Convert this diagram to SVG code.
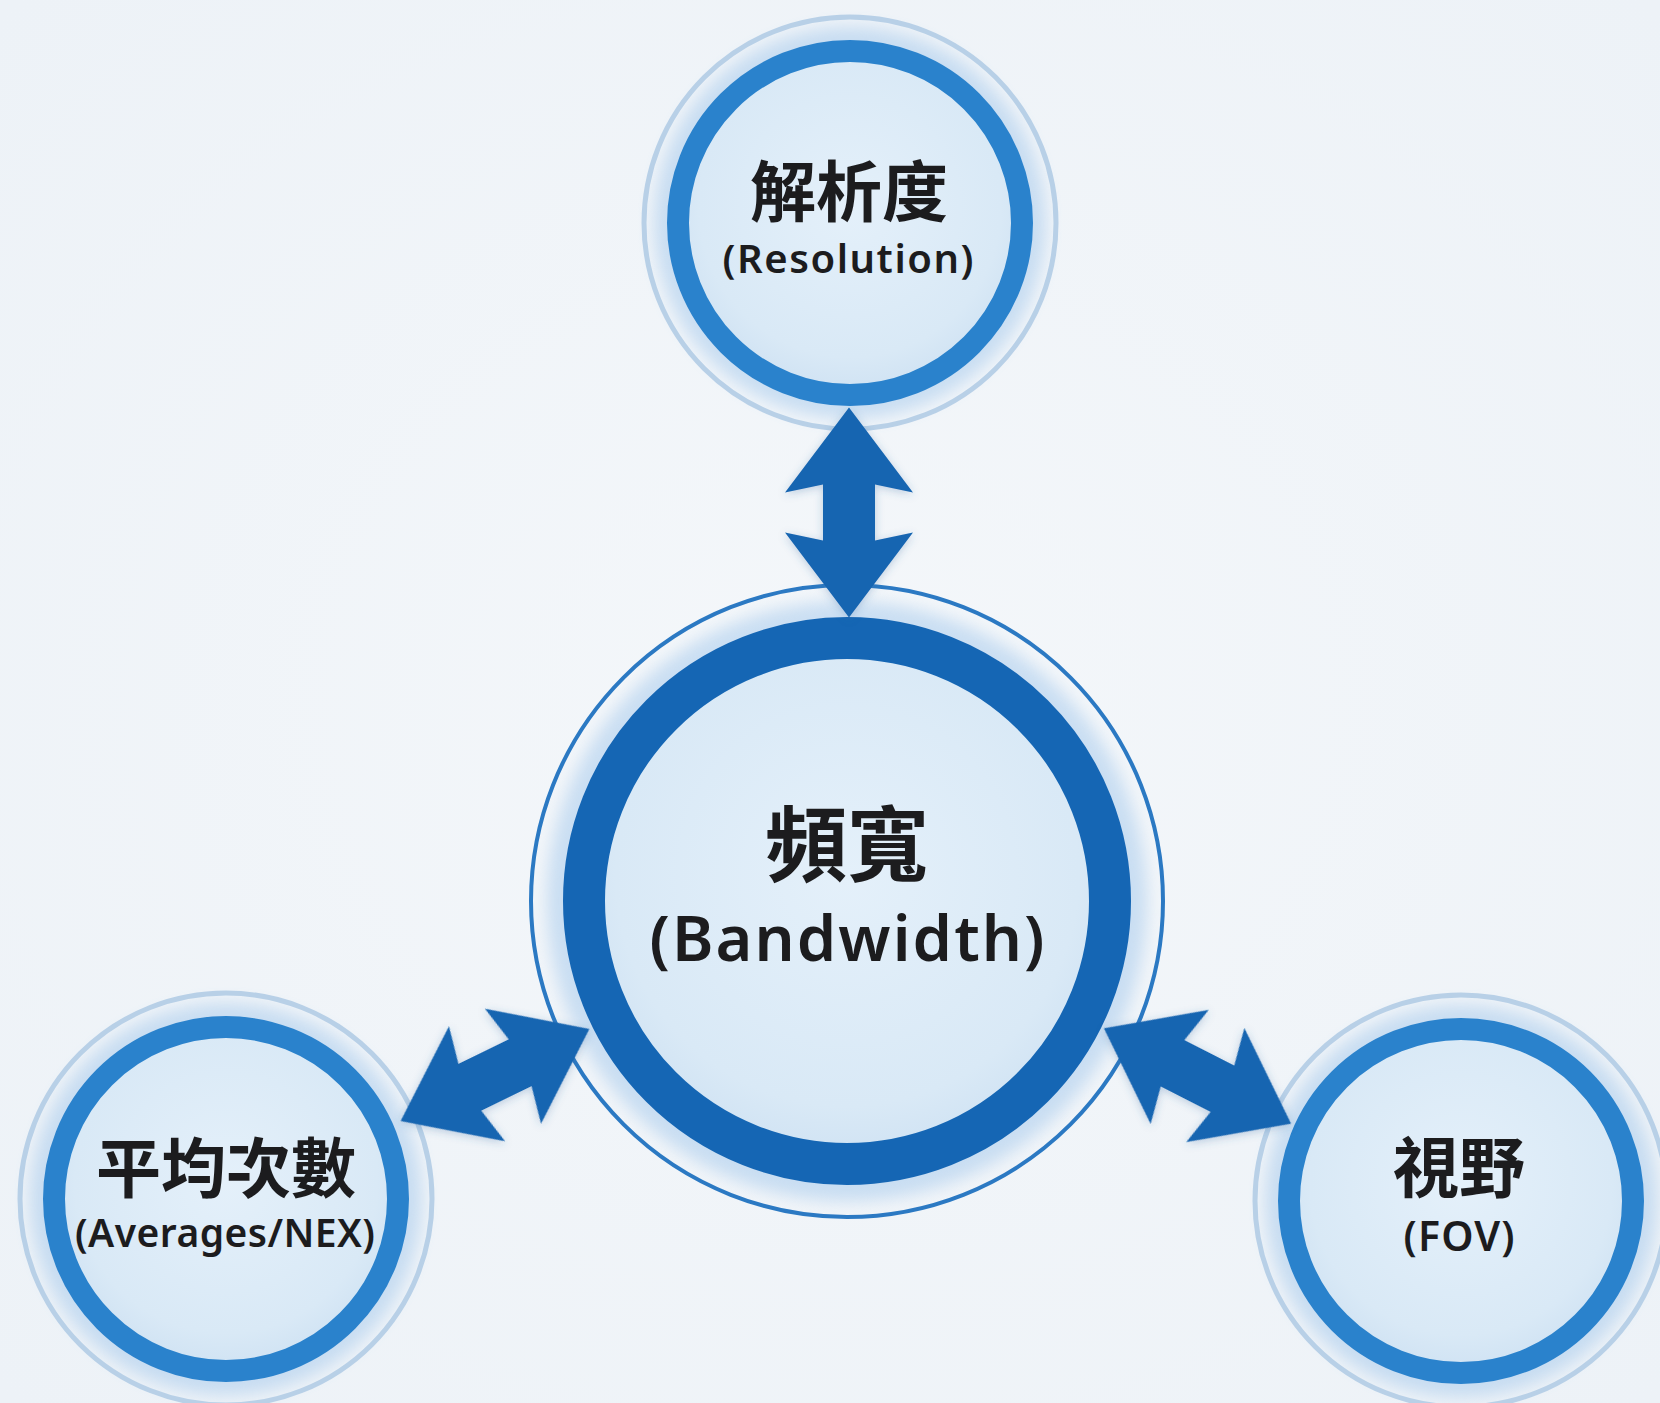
<svg xmlns="http://www.w3.org/2000/svg" width="1660" height="1403" viewBox="0 0 1660 1403">
<defs>
<radialGradient id="fillG" cx="50%" cy="45%" r="55%">
<stop offset="0" stop-color="#e4f0fa"/>
<stop offset="0.8" stop-color="#d9e9f6"/>
<stop offset="1" stop-color="#cfe2f3"/>
</radialGradient>
<radialGradient id="bgG" cx="50%" cy="50%" r="70%">
<stop offset="0" stop-color="#f4f7fa"/>
<stop offset="1" stop-color="#edf2f7"/>
</radialGradient>
<filter id="glow" x="-20%" y="-20%" width="140%" height="140%">
<feGaussianBlur stdDeviation="8"/>
</filter>
<filter id="shadow" x="-20%" y="-20%" width="140%" height="140%">
<feGaussianBlur in="SourceAlpha" stdDeviation="4"/>
<feOffset dx="0" dy="2" result="b"/>
<feFlood flood-color="#3a6fa8" flood-opacity="0.3"/>
<feComposite in2="b" operator="in"/>
<feMerge><feMergeNode/><feMergeNode in="SourceGraphic"/></feMerge>
</filter>
<path id="arr" d="M-105,0 L-20,-64 L-28,-26 L28,-26 L20,-64 L105,0 L20,64 L28,26 L-28,26 L-20,64 Z"/>
</defs>
<style>
.glow{fill:none;stroke:#8dbbe8;opacity:0.4}
.thinC{fill:none;stroke:#2b79c3;stroke-width:4}
.thinS{fill:none;stroke:#b8d0e7;stroke-width:5}
.ringC{fill:url(#fillG);stroke:#1566b4;stroke-width:42}
.ringS{fill:url(#fillG);stroke:#2a82cc;stroke-width:22}
.cjk{font-family:"Noto Sans CJK TC","Noto Sans",sans-serif;font-weight:bold;fill:#1c1c1e;text-anchor:middle}
.lat{font-family:"Noto Sans","Noto Sans CJK TC",sans-serif;font-weight:600;fill:#1c1c1e;text-anchor:middle}
.arrow{fill:#1565b1}
</style>
<rect width="1660" height="1403" fill="url(#bgG)"/>

<g id="node-bandwidth">
<circle cx="847" cy="901" r="270" class="glow" stroke-width="60" filter="url(#glow)"/>
<circle cx="847" cy="901" r="316" class="thinC"/>
<circle cx="847" cy="901" r="263" class="ringC"/>
<text x="847" y="875" class="cjk" font-size="82">頻寬</text>
<text x="847" y="961" class="lat" font-size="63" textLength="395" lengthAdjust="spacing">(Bandwidth)</text>
</g>

<g id="node-resolution">
<circle cx="850" cy="223" r="176" class="glow" stroke-width="40" filter="url(#glow)"/>
<circle cx="850" cy="223" r="206" class="thinS"/>
<circle cx="850" cy="223" r="172" class="ringS"/>
<text x="849" y="216" class="cjk" font-size="66">解析度</text>
<text x="848" y="273" class="lat" font-size="40" textLength="251" lengthAdjust="spacing">(Resolution)</text>
</g>

<g id="node-averages">
<circle cx="226" cy="1199" r="176" class="glow" stroke-width="40" filter="url(#glow)"/>
<circle cx="226" cy="1199" r="206" class="thinS"/>
<circle cx="226" cy="1199" r="172" class="ringS"/>
<text x="226" y="1192" class="cjk" font-size="65">平均次數</text>
<text x="225" y="1247" class="lat" font-size="39" textLength="300" lengthAdjust="spacing">(Averages/NEX)</text>
</g>

<g id="node-fov">
<circle cx="1461" cy="1201" r="176" class="glow" stroke-width="40" filter="url(#glow)"/>
<circle cx="1461" cy="1201" r="206" class="thinS"/>
<circle cx="1461" cy="1201" r="172" class="ringS"/>
<text x="1459" y="1192" class="cjk" font-size="66">視野</text>
<text x="1459" y="1251" class="lat" font-size="41" textLength="111" lengthAdjust="spacing">(FOV)</text>
</g>

<g id="connectors" filter="url(#shadow)">
<use href="#arr" class="arrow" transform="translate(849,512.5) rotate(90)"/>
<use href="#arr" class="arrow" transform="translate(495,1075) rotate(-26)"/>
<use href="#arr" class="arrow" transform="translate(1197.5,1076) rotate(27)"/>
</g>
</svg>
